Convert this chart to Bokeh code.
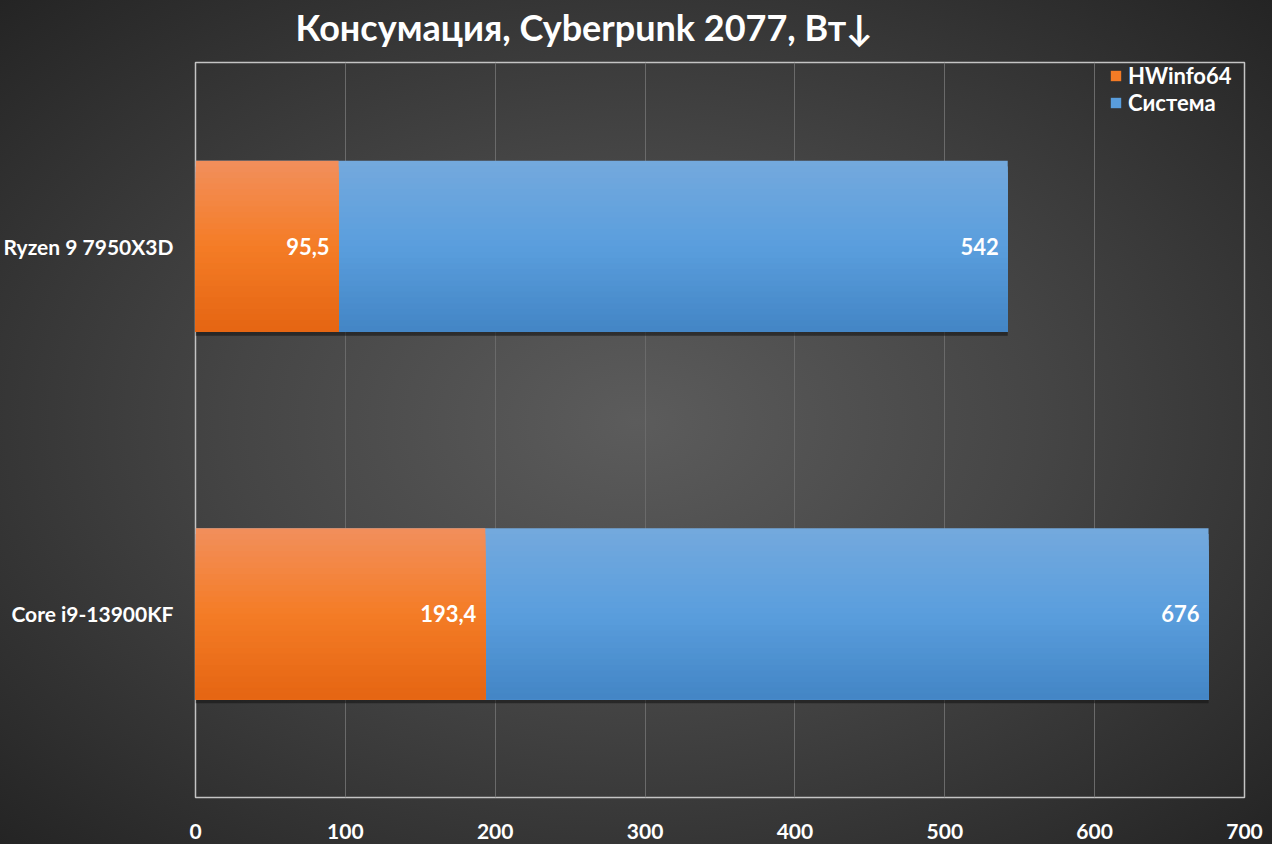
from bokeh.plotting import figure
from bokeh.models import ColumnDataSource, Legend, LegendItem, FixedTicker, Title
from bokeh.transform import dodge
from bokeh.core.properties import value
from bokeh.embed import file_html
from bokeh.resources import INLINE

# ---- data ----
cpus = ["Core i9-13900KF", "Ryzen 9 7950X3D"]          # bottom -> top
hwinfo = [193.4, 95.5]
system = [676, 542]
hwinfo_labels = ["193,4", "95,5"]
system_labels = ["676", "542"]
ticks = [0, 100, 200, 300, 400, 500, 600, 700]
title_text = "Консумация, Cyberpunk 2077, Вт↓"
series_names = ["HWinfo64", "Система"]

FONT = "Lato"
W, H = 1272, 844

p = figure(width=W, height=H, y_range=cpus, x_range=(0, 700),
           output_backend="svg", toolbar_location=None,
           min_border_left=195, min_border_right=28,
           min_border_top=62, min_border_bottom=47)
p.title = None
p.background_fill_alpha = 0
p.border_fill_alpha = 0
p.outline_line_color = "#c4c4c4"
p.outline_line_width = 1.5
p.styles = {"background": "radial-gradient(ellipse at 50% 50%, #5c5c5c 0%, #454545 45%, #242424 100%)"}

# grid
p.ygrid.grid_line_color = None
p.xgrid.grid_line_color = "#6a6a6a"
p.xgrid.grid_line_width = 1
p.xaxis.ticker = FixedTicker(ticks=ticks)

for ax in (p.xaxis, p.yaxis):
    ax.axis_line_color = None
    ax.major_tick_line_color = None
    ax.minor_tick_line_color = None
    ax.major_label_text_color = "white"
    ax.major_label_text_font = FONT
    ax.major_label_text_font_style = "bold"
    ax.major_label_text_font_size = "21px"
p.xaxis.major_label_standoff = 20
p.yaxis.major_label_standoff = 16

src = ColumnDataSource(dict(cpu=cpus, hw=hwinfo, sys=system,
                            hwl=hwinfo_labels, sysl=system_labels))

BAR_H = 0.465
N = 30


def lerp(c1, c2, t):
    a = [int(c1[i:i + 2], 16) for i in (1, 3, 5)]
    b = [int(c2[i:i + 2], 16) for i in (1, 3, 5)]
    return "#%02x%02x%02x" % tuple(round(a[k] + (b[k] - a[k]) * t) for k in range(3))


def grad(top, mid, bot, t):
    return lerp(top, mid, t * 2) if t < 0.5 else lerp(mid, bot, (t - 0.5) * 2)


# shadow under bars
p.hbar(y=dodge("cpu", -BAR_H / 2 - 0.005, range=p.y_range), right="sys", left=0, source=src,
       height=0.012, fill_color="#161616", fill_alpha=0.6, line_color=None)

renderers = {}
for key, cols in (("sys", ("#74a9dd", "#5a9edd", "#4385c5")),
                  ("hw", ("#f28f5c", "#f47c26", "#e56512"))):
    for k in range(N):
        t = (k + 0.5) / N
        hk = BAR_H - k * BAR_H / N          # strip runs from its top down to the bar bottom
        off = BAR_H / 2 - k * BAR_H / N - hk / 2
        r = p.hbar(y=dodge("cpu", off, range=p.y_range), right=key, left=0, height=hk,
                   source=src, fill_color=grad(cols[0], cols[1], cols[2], t), line_color=None)
        if k == N // 2:
            renderers[key] = r

# value labels
for xcol, tcol in (("hw", "hwl"), ("sys", "sysl")):
    p.text(x=xcol, y="cpu", text=tcol, source=src, text_align="right", text_baseline="middle",
           x_offset=-9, text_color="white", text_font=value(FONT), text_font_style="bold",
           text_font_size="22px")

legend = Legend(items=[LegendItem(label=series_names[0], renderers=[renderers["hw"]]),
                       LegendItem(label=series_names[1], renderers=[renderers["sys"]])],
                location="top_right", background_fill_alpha=0, border_line_color=None,
                label_text_color="white", label_text_font=FONT, label_text_font_style="bold",
                label_text_font_size="22px", glyph_width=13, glyph_height=13,
                label_standoff=6, spacing=0, padding=0, margin=0,
                label_height=27, label_width=116)
p.add_layout(legend)

# spacer between frame and title (closest to the frame), then the title above it
spacer = Title(text=" ", text_font_size="10px", standoff=0)
p.add_layout(spacer, "above")
t = Title(text=title_text, text_color="white", text_font=FONT, text_font_style="bold",
          text_font_size="36px", align="left", offset=100, standoff=2)
p.add_layout(t, "above")

open("out.html", "w").write(file_html(p, INLINE))
